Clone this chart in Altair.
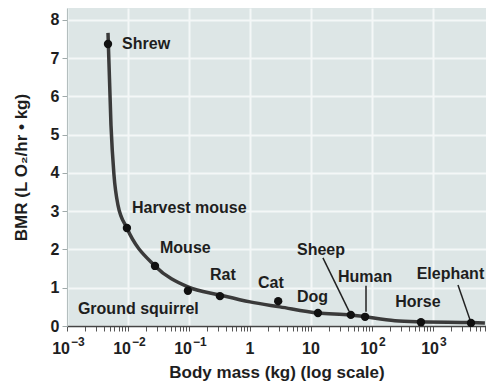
import altair as alt
import pandas as pd

# ---- data ----
animals = ["Shrew", "Harvest mouse", "Mouse", "Ground squirrel", "Rat", "Cat",
           "Dog", "Sheep", "Human", "Horse", "Elephant"]
mass = [0.0047, 0.0096, 0.0277, 0.096, 0.322, 2.9, 13.0, 45.0, 77.0, 635.0, 4200.0]
bmr = [7.37, 2.56, 1.57, 0.92, 0.78, 0.65, 0.34, 0.29, 0.24, 0.10, 0.08]

label_mass = [0.0080, 0.0116, 0.0335, 0.00151, 0.221, 1.35, 5.9, 5.9, 27.7, 240.0, 540.0]
label_bmr = [7.37, 3.08, 2.04, 0.44, 1.33, 1.12, 0.76, 1.99, 1.28, 0.62, 1.37]

curve_mass = [0.0047, 0.00526, 0.00589, 0.00685, 0.0096, 0.0277, 0.096,
              0.322, 1.0, 3.1, 13.0, 45.0, 77.0, 238.0, 635.0, 4200.0, 7100.0]
curve_bmr = [7.66, 5.25, 3.95, 3.16, 2.56, 1.57, 1.02,
             0.81, 0.63, 0.50, 0.34, 0.29, 0.24, 0.14, 0.11, 0.09, 0.08]

leader_names = ["Sheep", "Human", "Elephant"]
leader_from_mass = [15.7, 79.8, 2570.0]
leader_from_bmr = [1.78, 1.05, 1.07]
leader_to_mass = [42.0, 79.8, 4050.0]
leader_to_bmr = [0.39, 0.37, 0.16]

# x tick labels: base "10" with superscript exponent
decades = [0.001, 0.01, 0.1, 1, 10, 100, 1000]
decade_base = ["10", "10", "10", "1", "10", "10", "10"]
decade_exp = ["−3", "−2", "−1", "", "", "2", "3"]
y_ticks = [0, 1, 2, 3, 4, 5, 6, 7, 8]

x_max = 7400
minor_ticks = []
for d in decades:
    for k in range(1, 10):
        v = d if k == 1 else k * d
        if v <= x_max:
            minor_ticks.append(v)

grid_test = " || ".join(f"datum.value === {v}" for v in decades)

pts = pd.DataFrame({"animal": animals, "mass": mass, "bmr": bmr})
labs = pd.DataFrame({"animal": animals, "mass": label_mass, "bmr": label_bmr})
curve = pd.DataFrame({"mass": curve_mass, "bmr": curve_bmr, "order": list(range(len(curve_mass)))})
leaders = pd.DataFrame({"animal": leader_names, "mass": leader_from_mass, "bmr": leader_from_bmr,
                        "m2": leader_to_mass, "b2": leader_to_bmr})
ticks = pd.DataFrame({"mass": decades, "base": decade_base, "exp": decade_exp})
ticks["kind"] = ["neg" if e.startswith("−") else ("pos" if e else "plain") for e in decade_exp]

FONT = "Liberation Sans"
TXT = "#1e1e1e"
GRID = "#f4f7f7"

xscale = alt.Scale(type="log", domain=[0.001, x_max], nice=False)
yscale = alt.Scale(domain=[0, 8.31], nice=False, zero=False)

xaxis = alt.Axis(
    values=minor_ticks, labels=False,
    title="Body mass (kg) (log scale)", titleFontSize=17, titleFont=FONT, titleFontWeight="bold",
    titleColor=TXT, titlePadding=33,
    tickSize=5, tickColor="#555", tickWidth=1,
    domainColor="#444", domainWidth=1.5,
    grid=True, gridColor=GRID, gridWidth=2,
    gridOpacity={"condition": {"test": grid_test, "value": 1}, "value": 0},
)
yaxis = alt.Axis(
    values=y_ticks, labelOverlap=False, title="BMR (L O₂/hr • kg)", titleFontSize=17, titleFont=FONT,
    titleFontWeight="bold", titleColor=TXT, titlePadding=20,
    labelFont=FONT, labelFontSize=16, labelFontWeight="bold", labelColor=TXT, labelPadding=3,
    tickSize=5, tickColor="#a0aaaa", domainColor="#b4bebe",
    grid=True, gridColor=GRID, gridWidth=2,
)

X = alt.X("mass:Q", scale=xscale, axis=xaxis)
Y = alt.Y("bmr:Q", scale=yscale, axis=yaxis)

line = alt.Chart(curve).mark_line(color="#3a3a3a", strokeWidth=3.5, interpolate="monotone").encode(
    x=X, y=Y, order="order:Q")

dots = alt.Chart(pts).mark_circle(size=70, color="#111111", opacity=1).encode(x=X, y=Y)

texts = alt.Chart(labs).mark_text(align="left", baseline="middle", font=FONT, fontSize=16,
                                   fontWeight="bold", color=TXT).encode(
    x=X, y=Y, text="animal:N")

rules = alt.Chart(leaders).mark_rule(color="#222", strokeWidth=1.5).encode(
    x=X, y=Y, x2="m2:Q", y2="b2:Q")

# tick labels below the axis
BASE_Y = 341
EXP_Y = 334
tick_base = alt.Chart(ticks)
lbl_neg = tick_base.transform_filter("datum.kind == 'neg'").mark_text(
    align="right", baseline="middle", dx=3, font=FONT, fontSize=16, fontWeight="bold", color=TXT
).encode(x=X, y=alt.value(BASE_Y), text="base:N")
exp_neg = tick_base.transform_filter("datum.kind == 'neg'").mark_text(
    align="left", baseline="middle", dx=4, font=FONT, fontSize=12, fontWeight="bold", color=TXT
).encode(x=X, y=alt.value(EXP_Y), text="exp:N")
lbl_pos = tick_base.transform_filter("datum.kind == 'pos'").mark_text(
    align="right", baseline="middle", dx=6, font=FONT, fontSize=16, fontWeight="bold", color=TXT
).encode(x=X, y=alt.value(BASE_Y), text="base:N")
exp_pos = tick_base.transform_filter("datum.kind == 'pos'").mark_text(
    align="left", baseline="middle", dx=7, font=FONT, fontSize=12, fontWeight="bold", color=TXT
).encode(x=X, y=alt.value(EXP_Y), text="exp:N")
lbl_plain = tick_base.transform_filter("datum.kind == 'plain'").mark_text(
    align="center", baseline="middle", font=FONT, fontSize=16, fontWeight="bold", color=TXT
).encode(x=X, y=alt.value(BASE_Y), text="base:N")

chart = alt.layer(line, rules, dots, texts, lbl_neg, exp_neg, lbl_pos, exp_pos, lbl_plain).properties(
    width=419, height=318,
    autosize=alt.AutoSizeParams(type="none"),
    padding={"left": 59, "top": 0, "right": 0, "bottom": 57},
).configure_view(fill="#dde6e6", stroke=None)

chart.save("out.html", embed_options={"renderer": "svg", "actions": False})
